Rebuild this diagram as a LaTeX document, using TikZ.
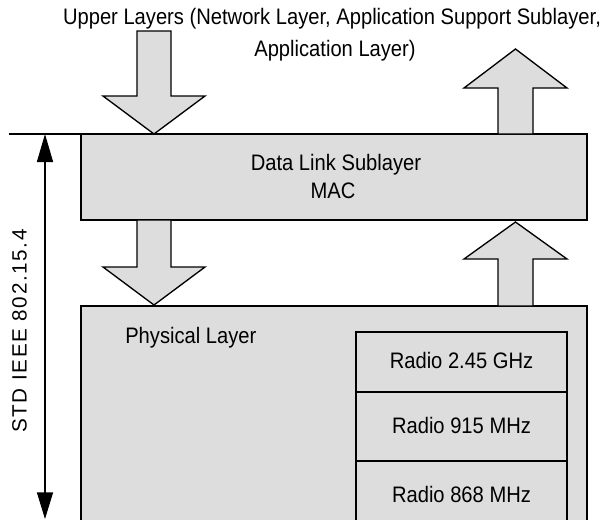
\documentclass[tikz,border=0pt]{standalone}
\usepackage{fontspec}
\setmainfont{Liberation Sans}[FakeStretch=0.9]
\newfontfamily\dimfont{Liberation Sans}[LetterSpace=8]
\usetikzlibrary{arrows.meta}
\definecolor{boxgray}{RGB}{221,221,221}
\begin{document}
\begin{tikzpicture}[x=0.75pt,y=-0.75pt,
  box/.style={draw=black,line width=1.9pt,fill=boxgray,inner sep=0pt,outer sep=0pt},
  radiobox/.style={draw=black,line width=1.8pt,fill=boxgray,inner sep=0pt,outer sep=0pt,minimum width=158.25pt},
  blockarrow/.style={draw=black,line width=1pt,fill=boxgray,line join=miter},
  lbl/.style={font=\fontsize{16.8}{21}\selectfont,inner sep=0pt},
  dimline/.style={line width=1.1pt,{Triangle[length=21pt,width=12pt]}-{Triangle[length=20pt,width=12pt]}}]
\useasboundingbox (0,0) rectangle (608,519);
\clip (0,0) rectangle (608,519);
\fill[white] (0,0) rectangle (608,519);
% boxes
\node[box,minimum width=379.5pt,minimum height=64.5pt] (mac) at (334,177) {};
\node[box,minimum width=379.5pt,minimum height=175.5pt] (phys) at (334,423) {};
\node[radiobox,minimum height=45pt] (r1) at (461.5,362) {};
\node[radiobox,minimum height=51.75pt] (r2) at (461.5,426.5) {};
\node[radiobox,minimum height=59.25pt] (r3) at (461.5,500.5) {};
% block arrows
\draw[blockarrow] (137,31) -- (171,31) -- (171,96) -- (205,96) -- (154,134) -- (103,96) -- (137,96) -- cycle;
\draw[blockarrow] (498,134) -- (498,88) -- (464,88) -- (515.5,49) -- (567,88) -- (533,88) -- (533,134) -- cycle;
\draw[blockarrow] (137,220) -- (171,220) -- (171,267) -- (205,267) -- (154,305) -- (103,267) -- (137,267) -- cycle;
\draw[blockarrow] (498,306) -- (498,259) -- (464,259) -- (515.5,222) -- (567,259) -- (533,259) -- (533,306) -- cycle;
% texts
\node[lbl,anchor=base] (up1) at (332,24) {Upper Layers (Network Layer, Application Support Sublayer,};
\node[lbl,anchor=base] (up2) at (335,56) {Application Layer)};
\node[lbl,anchor=base] (dl1) at (336,170) {Data Link Sublayer};
\node[lbl,anchor=base] (dl2) at (333,198) {MAC};
\node[lbl,anchor=base west] (phl) at (125,343) {Physical Layer};
\node[lbl,anchor=base] (t1) at (461.5,368) {Radio 2.45 GHz};
\node[lbl,anchor=base] (t2) at (461.5,433) {Radio 915 MHz};
\node[lbl,anchor=base] (t3) at (461.5,502) {Radio 868 MHz};
% dimension
\coordinate (hl) at (9,134);
\coordinate (dtop) at (45,134);
\coordinate (dbot) at (45,519);
\draw[line width=0.9pt] (hl) -- (mac.north west);
\draw[dimline] (dtop) -- (dbot);
\node[inner sep=0pt,rotate=90,font=\dimfont\fontsize{15.5}{18}\selectfont] (std) at (19.5,331) {STD IEEE 802.15.4};
\end{tikzpicture}
\end{document}
